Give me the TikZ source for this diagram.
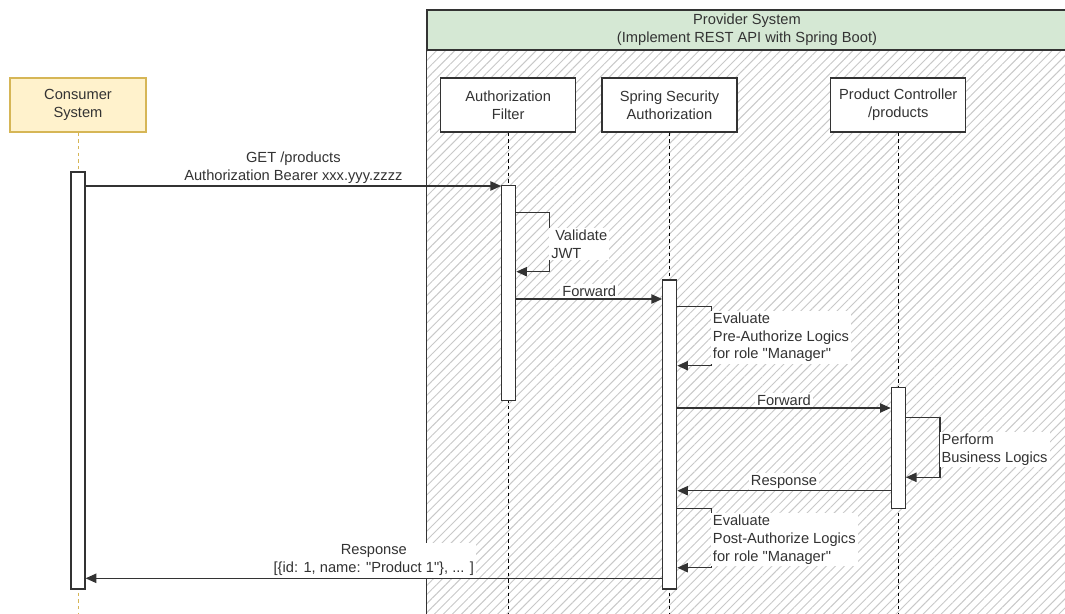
\documentclass[tikz,border=0pt]{standalone}
\usepackage{fontspec}
\setmainfont{Liberation Sans}
\usepackage{tikz}
\usetikzlibrary{arrows.meta,patterns.meta}

\definecolor{txtgray}{HTML}{333333}
\definecolor{consfill}{HTML}{FFF2CC}
\definecolor{consline}{HTML}{D6B656}
\definecolor{provfill}{HTML}{D5E8D4}
\definecolor{hatchgray}{HTML}{C8C8C8}

\tikzset{
  partbox/.style={draw=txtgray, fill=white, line width=0.9pt, align=center,
    minimum width=101.25pt, minimum height=40.5pt, inner sep=1pt},
  consbox/.style={partbox, draw=consline, fill=consfill, minimum width=102pt},
  actbar/.style={draw=txtgray, fill=white, line width=0.9pt, minimum width=10.5pt, inner sep=0pt},
  lifeline/.style={line width=0.75pt, dash pattern=on 2.5pt off 2.5pt},
  msg/.style={draw=txtgray, line width=0.9pt, ->},
  msglabel/.style={fill=white, inner sep=1.5pt, align=center, anchor=south},
  looplabel/.style={fill=white, inner sep=1.5pt, align=left, anchor=north west},
}

\begin{document}
\begin{tikzpicture}[x=0.75pt, y=-0.75pt, font=\fontsize{11}{13.3}\selectfont, text=txtgray,
  >={Triangle[length=8pt,width=7pt]}]
\path[use as bounding box, clip] (0,0) rectangle (1065,614);
\coordinate (bottom) at (0,620);
% provider container
\path[pattern={Lines[angle=45,distance=4.8pt,line width=0.7pt]}, pattern color=hatchgray]
  (427,50) rectangle (1070,620);
\node[draw=txtgray, line width=0.9pt, fill=provfill, align=center, minimum width=480pt,
  minimum height=30pt, inner sep=0pt] (provider) at (747,30)
  {Provider System\\(Implement REST API with Spring Boot)};
\draw[txtgray, line width=0.9pt] (provider.south west) -- (provider.south west |- bottom);
% participants
\node[consbox] (consumer) at (78,105) {Consumer\\System};
\node[partbox] (authfilter) at (508.2,105) {Authorization\\Filter};
\node[partbox] (springsec) at (669.5,105) {Spring Security\\Authorization};
\node[partbox] (prodctrl) at (898.3,105) {Product Controller\\/products};
% lifelines
\draw[lifeline, consline] (consumer.south) -- (consumer.south |- bottom);
\draw[lifeline] (authfilter.south) -- (authfilter.south |- bottom);
\draw[lifeline] (springsec.south) -- (springsec.south |- bottom);
\draw[lifeline] (prodctrl.south) -- (prodctrl.south |- bottom);
% activation bars
\node[actbar, minimum height=312.75pt] (consbar) at (78,380.5) {};
\node[actbar, minimum height=161.25pt] (filterbar) at (508.7,293.2) {};
\node[actbar, minimum height=231.75pt] (secbar) at (669.7,434.5) {};
\node[actbar, minimum height=90.75pt] (ctrlbar) at (898.3,447.8) {};
% message levels
\coordinate (m1) at (0,186);
\coordinate (m2) at (0,299);
\coordinate (m3) at (0,408);
\coordinate (m4) at (0,490.7);
\coordinate (m5) at (0,578.3);
% messages
\draw[msg] (consbar.east |- m1) -- node[msglabel]{GET /products\\Authorization Bearer xxx.yyy.zzzz} (filterbar.west |- m1);
\draw[msg] (filterbar.east |- m2) -- node[msglabel]{Forward} (secbar.west |- m2);
\draw[msg] (secbar.east |- m3) -- node[msglabel]{Forward} (ctrlbar.west |- m3);
\draw[msg] (ctrlbar.west |- m4) -- node[msglabel]{Response} (secbar.east |- m4);
\draw[msg] (secbar.west |- m5) -- node[msglabel]{Response\\{}[\{id: 1, name: \textquotedbl Product 1\textquotedbl\}, ... ]} (consbar.east |- m5);
% self calls
\draw[msg] (filterbar.east |- 0,212.3) -- ++(33,0) |- (filterbar.east |- 0,271.7);
\node[looplabel] (validate) at (549,227.5) {\hspace{3pt}Validate\\JWT};
\draw[msg] (secbar.east |- 0,306.7) -- ++(34,0) |- (secbar.east |- 0,365.7);
\node[looplabel] (preauth) at (710.7,310.5) {Evaluate\\Pre-Authorize Logics\\for role \textquotedbl Manager\textquotedbl};
\draw[msg] (ctrlbar.east |- 0,417.7) -- ++(34,0) |- (ctrlbar.east |- 0,477.3);
\node[looplabel] (perform) at (939.3,431.6) {Perform\\Business Logics};
\draw[msg] (secbar.east |- 0,508.3) -- ++(34,0) |- (secbar.east |- 0,567.7);
\node[looplabel] (postauth) at (710.7,513) {Evaluate\\Post-Authorize Logics\\for role \textquotedbl Manager\textquotedbl};
\end{tikzpicture}
\end{document}
